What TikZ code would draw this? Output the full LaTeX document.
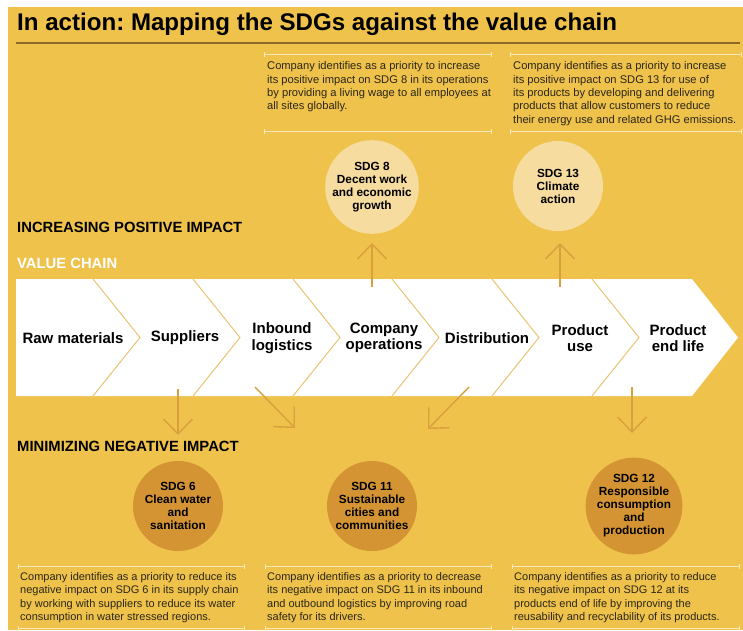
\documentclass[tikz,border=0pt]{standalone}
\usepackage{fontspec}
\setmainfont{Liberation Sans}
\usetikzlibrary{arrows.meta}
\frenchspacing
\definecolor{bgyellow}{HTML}{EFC24C}
\definecolor{cream}{HTML}{F6DC9E}
\definecolor{ochre}{HTML}{D49433}
\definecolor{arrowc}{HTML}{D9A03E}
\definecolor{sepc}{HTML}{EBC372}
\definecolor{rulec}{HTML}{8A6A24}
\definecolor{linec}{HTML}{F9E9B8}
\definecolor{bodytext}{HTML}{2B2618}
\begin{document}
\begin{tikzpicture}[x=1pt,y=-1pt,
  heading/.style={anchor=west,inner sep=0pt,font=\fontsize{14.8}{16}\selectfont\bfseries},
  stage/.style={inner sep=0pt,align=center,font=\fontsize{15}{16.5}\selectfont\bfseries},
  body/.style={anchor=north west,inner sep=0pt,align=left,text=bodytext,font=\fontsize{11}{13.6}\selectfont},
  bodytop/.style={body,font=\fontsize{11.15}{13.4}\selectfont},
  sdgup/.style={circle,fill=cream,minimum size=90pt,inner sep=0pt,align=center,font=\fontsize{11.8}{13}\selectfont\bfseries},
  sdgdown/.style={circle,fill=ochre,minimum size=90pt,inner sep=0pt,align=center,font=\fontsize{11.8}{13}\selectfont\bfseries},
  impact/.style={draw=arrowc,line width=1.4pt,-{Straight Barb[length=15pt,width=29pt,line width=1.4pt]}},
  boxrule/.style={draw=linec,line width=1pt,{Bar[width=5pt,line width=1pt]}-{Bar[width=5pt,line width=1pt]}},
  sep/.style={draw=sepc,line width=1pt}
]
\useasboundingbox (0,0) rectangle (743,630);
\fill[white] (0,0) rectangle (743,630);
\fill[bgyellow] (8,7) rectangle (743,630);

% title
\node[anchor=west,inner sep=0pt,font=\fontsize{24.1}{27}\selectfont\bfseries] (title) at (17,24) {In action: Mapping the SDGs against the value chain};
\draw[rulec,line width=2pt] (16,42.5) -- (740,42.5);

% headings
\node[heading] (hpos) at (17,227) {INCREASING POSITIVE IMPACT};
\node[heading,text=white] (hvc) at (17,263) {VALUE CHAIN};
\node[heading] (hneg) at (17,446) {MINIMIZING NEGATIVE IMPACT};

% value chain band
\fill[white] (16,279) -- (692,279) -- (738,337.5) -- (692,396) -- (16,396) -- cycle;
\foreach \xt in {93,193,293,392,492,592}{
  \draw[sep] (\xt,279) -- (\xt+47,337.5) -- (\xt,396);
}
\node[stage] (raw) at (73,338) {Raw materials};
\node[stage] (sup) at (185,338) {Suppliers};
\node[stage] (inb) at (282,338) {Inbound\\logistics};
\node[stage] (ops) at (384,338) {Company\\operations};
\node[stage] (dist) at (487,338) {Distribution};
\node[stage] (use) at (580,338) {Product\\use};
\node[stage] (eol) at (678,338) {Product\\end life};

% SDG circles
\node[sdgup] (sdg8) at (372,187) {SDG 8\\Decent work\\and economic\\growth};
\node[sdgup] (sdg13) at (558,186) {SDG 13\\Climate\\action};
\node[sdgdown] (sdg6) at (178,506) {SDG 6\\Clean water\\and\\sanitation};
\node[sdgdown] (sdg11) at (372,506) {SDG 11\\Sustainable\\cities and\\communities};
\node[sdgdown] (sdg12) at (634,506) {SDG 12\\Responsible\\consumption\\and\\production};

% arrow ends
\coordinate (a8s) at (372,287);  \coordinate (a8e) at (372,243);
\coordinate (a13s) at (560,287); \coordinate (a13e) at (560,243);
\coordinate (a6s) at (178,389);  \coordinate (a6e) at (178,435);
\coordinate (a11as) at (255,387); \coordinate (a11ae) at (295,428);
\coordinate (a11bs) at (469,387); \coordinate (a11be) at (428,429);
\coordinate (a12s) at (632,387); \coordinate (a12e) at (632,433);
\draw[impact] (a8s) -- (a8e);
\draw[impact] (a13s) -- (a13e);
\draw[impact] (a6s) -- (a6e);
\draw[impact] (a11as) -- (a11ae);
\draw[impact] (a11bs) -- (a11be);
\draw[impact] (a12s) -- (a12e);

% text boxes top
\draw[boxrule] (264,54) -- (492,54);
\draw[boxrule] (264,131) -- (492,131);
\node[bodytop] (t8) at (267,61.5) {Company identifies as a priority to increase\\its positive impact on SDG 8 in its operations\\by providing a living wage to all employees at\\all sites globally.};
\draw[boxrule] (510,54) -- (742,54);
\draw[boxrule] (510,131) -- (742,131);
\node[bodytop] (t13) at (513,61.5) {Company identifies as a priority to increase\\its positive impact on SDG 13 for use of\\its products by developing and delivering\\products that allow customers to reduce\\their energy use and related GHG emissions.};

% text boxes bottom
\draw[boxrule] (18,566) -- (245,566);
\draw[boxrule] (18,628) -- (245,628);
\node[body] (t6) at (20,572) {Company identifies as a priority to reduce its\\negative impact on SDG 6 in its supply chain\\by working with suppliers to reduce its water\\consumption in water stressed regions.};
\draw[boxrule] (265,566) -- (492,566);
\draw[boxrule] (265,628) -- (492,628);
\node[body] (t11) at (267,572) {Company identifies as a priority to decrease\\its negative impact on SDG 11 in its inbound\\and outbound logistics by improving road\\safety for its drivers.};
\draw[boxrule] (512,566) -- (740,566);
\draw[boxrule] (512,628) -- (740,628);
\node[body] (t12) at (514,572) {Company identifies as a priority to reduce\\its negative impact on SDG 12 at its\\products end of life by improving the\\reusability and recyclability of its products.};
\end{tikzpicture}
\end{document}
